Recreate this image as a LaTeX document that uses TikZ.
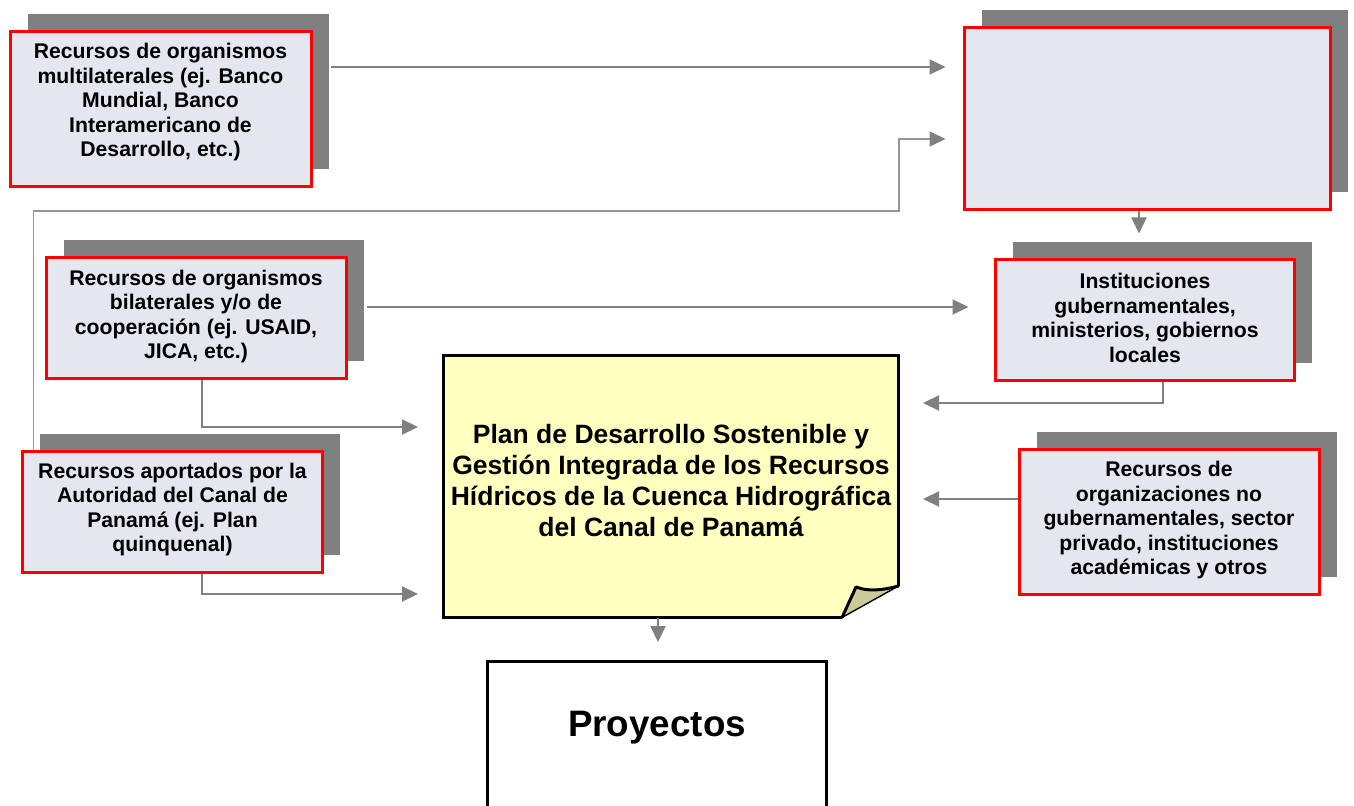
\documentclass[tikz,border=0pt]{standalone}
\usepackage{fontspec}
\setmainfont{Liberation Sans}
\usetikzlibrary{arrows.meta,shadows}
\definecolor{boxfill}{RGB}{228,231,240}
\definecolor{shadowgray}{RGB}{128,128,128}
\definecolor{linegray}{RGB}{128,128,128}
\definecolor{thingray}{RGB}{150,150,150}
\definecolor{notefill}{RGB}{255,255,192}
\definecolor{flapfill}{RGB}{204,204,153}
\begin{document}
\begin{tikzpicture}[x=0.5pt,y=-0.5pt,
  srcbox/.style={draw=red,line width=1.5pt,fill=boxfill,inner sep=0pt,
    general shadow={fill=shadowgray,shadow xshift=8.5pt,shadow yshift=8.75pt}},
  srctext/.style={font=\bfseries\fontsize{10.6}{12.25}\selectfont,align=center,inner sep=0pt},
  conn/.style={draw=linegray,line width=1.1pt,-{Triangle[length=8pt,width=7.5pt]}},
  thinconn/.style={draw=thingray,line width=0.8pt,-{Triangle[length=8pt,width=7.5pt,fill=linegray,color=linegray]}},
  holder/.style={inner sep=0pt,outer sep=0pt}]
\useasboundingbox[fill=white] (0,0) rectangle (1354,806);

% source boxes
\node[srcbox,minimum width=150.5pt,minimum height=77.5pt] (b1) at (161,109) {};
\node[srcbox,minimum width=183pt,minimum height=91pt] (tr) at (1147.5,118.5) {};
\node[srcbox,minimum width=150pt,minimum height=60.5pt] (b2) at (196.5,318) {};
\node[srcbox,minimum width=149.5pt,minimum height=60.5pt] (b3) at (1145,320) {};
\node[srcbox,minimum width=150pt,minimum height=60.5pt] (b4) at (172.5,512) {};
\node[srcbox,minimum width=150pt,minimum height=72.5pt] (b5) at (1169.5,522) {};

\node[srctext] (t1) at (160.5,102.5) {Recursos de organismos\\multilaterales (ej. Banco\\Mundial, Banco\\Interamericano de\\Desarrollo, etc.)};
\node[srctext] (t2) at (196,316.5) {Recursos de organismos\\bilaterales y/o de\\cooperación (ej. USAID,\\JICA, etc.)};
\node[srctext] (t3) at (1145,318) {Instituciones\\gubernamentales,\\ministerios, gobiernos\\locales};
\node[srctext] (t4) at (172.5,509.5) {Recursos aportados por la\\Autoridad del Canal de\\Panamá (ej. Plan\\quinquenal)};
\node[srctext] (t5) at (1169,520.5) {Recursos de\\organizaciones no\\gubernamentales, sector\\privado, instituciones\\académicas y otros};

% central note
\node[holder,minimum width=227.5pt,minimum height=131pt] (plan) at (671,486.5) {};
\fill[notefill] (443.5,355.5) -- (898.5,355.5) -- (898.5,586) -- (842,617.5) -- (443.5,617.5) -- cycle;
\draw[line width=1.5pt,line join=miter] (842,617.5) -- (443.5,617.5) -- (443.5,355.5) -- (898.5,355.5) -- (898.5,586);
\fill[flapfill] (842,617.5) -- (856,587) .. controls (868,592) and (884,590) .. (898.5,586) -- cycle;
\draw[line width=0.7pt] (898.5,586) -- (842,617.5);
\draw[line width=1.5pt,line join=round,line cap=round] (842,617.5) -- (856,587) .. controls (868,592) and (884,590) .. (898.5,586);
\node[font=\bfseries\fontsize{13.25}{15.5}\selectfont,align=center,inner sep=0pt] (plantext) at (671,480.5)
  {Plan de Desarrollo Sostenible y\\Gestión Integrada de los Recursos\\Hídricos de la Cuenca Hidrográfica\\del Canal de Panamá};

% projects box
\node[holder,minimum width=169.5pt,minimum height=74pt] (proj) at (657,735.5) {};
\fill[white] (proj.south west) rectangle (proj.north east);
\draw[line width=1.5pt] (proj.south west) -- (proj.north west) -- (proj.north east) -- (proj.south east);
\node[font=\bfseries\fontsize{18.4}{22}\selectfont,anchor=base,inner sep=0pt] (projtext) at (657,736) {Proyectos};

% connectors
\draw[conn,shorten <=8.75pt,shorten >=8.75pt] (b1.east |- 0,67) -- (tr.west |- 0,67);
\draw[thinconn,shorten >=8.75pt] ([xshift=6.25pt]b4.north west) |- (899,211) |- (tr.west |- 0,139);
\draw[conn,shorten <=9.25pt,shorten >=12.75pt] (b2.east |- 0,307) -- (b3.west |- 0,307);
\draw[conn,shorten >=12.25pt] (tr.south -| 1139,0) -- (b3.north -| 1139,0);
\draw[conn,shorten >=12.75pt] (b2.south -| 202,0) |- (plan.west |- 0,427);
\draw[conn,shorten >=12.75pt] (b4.south -| 202,0) |- (plan.west |- 0,594);
\draw[conn,shorten >=12.25pt] (b3.south -| 1163,0) |- (plan.east |- 0,403);
\draw[conn,shorten >=12.25pt] (b5.west |- 0,499) -- (plan.east |- 0,499);
\draw[conn,shorten >=9.75pt] (plan.south -| 658,0) -- (proj.north -| 658,0);
\end{tikzpicture}
\end{document}
